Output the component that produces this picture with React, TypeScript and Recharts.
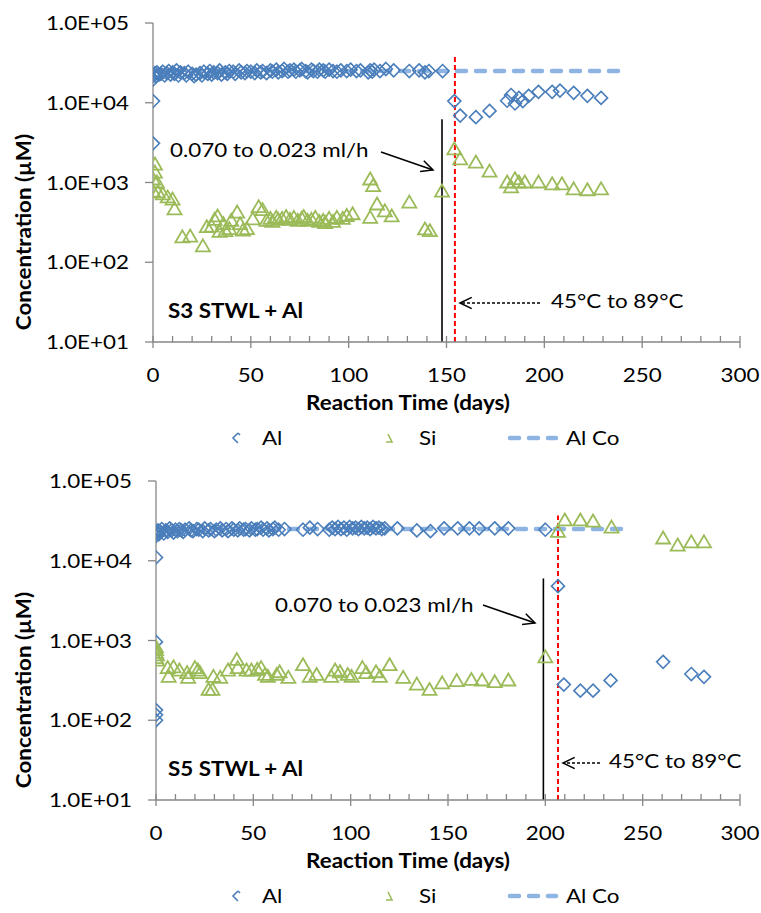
import React from 'react';
import { ComposedChart, Scatter, Line, XAxis, YAxis, ReferenceLine } from 'recharts';

// [day, concentration µM]
const s3Al: [number, number][] = [
  [0, 19500], [0, 10500], [0, 3100], [0.5, 22000], [1, 23500], [1.5, 21500], [2, 24000], [3, 22500],
  [4, 23000], [5, 24500], [6, 22000], [7, 23500], [8, 25000], [9, 22500], [10, 24000], [11, 23000],
  [12, 25500], [13, 22000], [14, 24000], [16, 23500], [17, 22000], [18, 24500], [20, 23000], [21, 21500],
  [22, 22500], [24, 23500], [25, 22000], [26, 24500], [28, 23000], [29, 25000], [30, 22500], [31, 24000],
  [33, 23500], [34, 25500], [35, 22500], [37, 24000], [38, 23000], [39, 25000], [41, 24500], [42, 23000],
  [44, 25500], [45, 24000], [47, 23500], [48, 25000], [50, 24500], [52, 23500], [53, 25500], [55, 24000],
  [56, 25000], [58, 23500], [60, 25500], [61, 24500], [63, 26000], [64, 24000], [66, 25000], [67, 26500],
  [69, 24500], [70, 25500], [72, 26000], [73, 24500], [75, 25500], [76, 26500], [78, 25000], [79, 24000],
  [81, 26000], [82, 25000], [84, 24500], [85, 26000], [87, 25500], [88, 24500], [90, 26000], [92, 25000],
  [94, 24500], [96, 25500], [99, 25000], [101, 26000], [104, 25000], [106, 25500], [110, 24000], [111, 25500],
  [112, 24500], [113, 26000], [116, 25000], [119, 26500], [123, 25500], [131, 25000], [136, 25500], [139, 24000],
  [141, 25000], [148, 25000], [154, 10500], [157, 6900], [165, 6600], [172, 7900], [181, 10600], [183, 12500],
  [185, 9800], [187, 11500], [189, 10500], [192, 12200], [197, 13700], [204, 13700], [208, 14200], [215, 13300],
  [222, 12200], [229, 11500],
];

const s3Si: [number, number][] = [
  [1, 1680], [1, 1330], [0, 1090], [2, 1000], [0, 770], [2.5, 750], [5, 710], [7.5, 650], [10, 610], [11, 460],
  [15, 205], [19, 210], [25.5, 158], [27.5, 275], [30, 280], [31.5, 340], [33, 375], [34, 240], [36, 300],
  [37, 245], [39, 260], [40, 330], [43, 420], [44.5, 300], [46, 250], [48, 260], [51, 345], [54, 490], [56, 450],
  [58, 330], [60, 350], [61, 320], [63, 360], [64, 340], [66, 350], [68, 370], [70, 340], [72, 360], [74, 330],
  [76, 350], [77, 370], [79, 330], [81, 340], [83, 360], [85, 320], [87, 330], [88, 310], [90, 350], [92, 320],
  [94, 360], [97, 350], [99, 380], [102, 400], [111, 360], [111, 1090], [112.5, 900], [114.5, 530], [118.5, 435],
  [122, 375], [131, 560], [139, 258], [141.5, 245], [147.7, 770], [154, 2600], [157, 1950], [165, 1780],
  [172, 1370], [181, 1000], [183, 870], [185, 1100], [187, 1000], [190, 1000], [197, 1000], [204, 950],
  [209, 950], [215, 820], [222, 800], [229, 820],
];

const s5Al: [number, number][] = [
  [0, 20500], [0, 23000], [0, 11000], [0, 960], [0, 134], [0, 117], [0, 100], [0.5, 22500], [1, 24000],
  [1.5, 21500], [2, 23500], [3, 25000], [4, 22000], [5, 24000], [6, 23000], [7, 25500], [8, 24000], [9, 22500],
  [10, 24500], [11, 23500], [12, 25000], [13, 24000], [14, 23000], [15, 24500], [17, 25500], [18, 24000],
  [19, 23500], [21, 25000], [22, 24500], [24, 23500], [25, 25500], [27, 24000], [28, 25000], [30, 23500],
  [31, 24500], [33, 25500], [34, 24000], [36, 25000], [37, 23500], [39, 25500], [40, 24500], [42, 24000],
  [43, 25500], [45, 24500], [46, 25000], [48, 24000], [49, 25500], [51, 24500], [52, 25000], [54, 26000],
  [55, 24500], [57, 25500], [58, 24000], [60, 25000], [61, 26000], [63, 24500], [66, 25000], [75.5, 24500],
  [79, 26000], [83, 25000], [89, 24500], [90.5, 26000], [92, 25000], [93.5, 26500], [95, 25000], [96.5, 26000],
  [98, 24500], [99.5, 26500], [101, 25500], [102.5, 26000], [104, 25000], [105.5, 26500], [107, 25500],
  [108.5, 26000], [110, 25000], [111.5, 26500], [113, 25500], [114.5, 26000], [116, 25000], [117.5, 25500],
  [124, 25500], [134, 24000], [141, 23500], [148, 25500], [155, 25500], [161, 25500], [166, 25500], [174, 25500],
  [181, 25500], [200, 24500], [206.5, 4800], [209.5, 280], [218, 235], [224.5, 235], [233.5, 316], [260.5, 540],
  [275, 380], [281.5, 350],
];

const s5Si: [number, number][] = [
  [0, 820], [0, 760], [0, 700], [0.5, 650], [0, 600], [0.5, 560], [6, 450], [6.5, 350], [9, 460], [12, 420],
  [16, 390], [16.5, 340], [20, 450], [21.5, 420], [22.6, 390], [27, 240], [29, 240], [29.5, 350], [33, 340],
  [37, 420], [41.5, 570], [42, 450], [46.5, 420], [49, 420], [52, 430], [54, 450], [56, 370], [57.5, 350],
  [62, 370], [63.5, 400], [68, 340], [75.5, 490], [79, 350], [82.5, 370], [90, 350], [92, 420], [94.5, 400],
  [98.5, 370], [100.5, 350], [106, 450], [108, 390], [113, 400], [115, 350], [120, 490], [127, 340], [134, 280],
  [140.5, 240], [147, 290], [154.5, 310], [162, 320], [167.5, 315], [174, 300], [181, 315], [200, 615],
  [206.5, 23000], [210, 32000], [218, 32000], [224.5, 31000], [234, 26000], [260.5, 19000], [268, 15500],
  [275, 17000], [281.5, 17000],
];

const alCoLevel = 25000;
const alCoRange = [0, 240];

const dayTicks = [0, 10, 20, 30, 40, 50, 60, 70, 80, 90, 100, 110, 120, 130, 140, 150, 160, 170, 180, 190, 200,
  210, 220, 230, 240, 250, 260, 270, 280, 290, 300];
const concTicks = [10, 100, 1000, 10000, 100000];

const FONT = "Lato, 'Open Sans', sans-serif";
const AXIS = '#868686';
const BLUE = '#4a7ebb';
const GREEN = '#9bbb59';
const ALCO = '#8eb4e3';
const SX = 1.12; // the original text is a bit wider than Lato

const toPts = (arr: [number, number][]) => arr.map(([x, y]) => ({ x, y }));

const sci = (v: number) => {
  const e = Math.round(Math.log10(v));
  return `1.0E+${e < 10 ? '0' + e : e}`;
};

// stretched text
function T({ x, y, children, anchor = 'start', size = 20, bold = false, rotate = 0 }: any) {
  return (
    <text
      transform={`translate(${x},${y}) rotate(${rotate}) scale(${SX},1)`}
      textAnchor={anchor}
      fontFamily={FONT}
      fontSize={size}
      fontWeight={bold ? 'bold' : 'normal'}
      fill="#000"
    >
      {children}
    </text>
  );
}

const Diamond = (p: any) => {
  const { cx, cy } = p;
  if (cx == null || cy == null) return null;
  const r = 6.5;
  return <path d={`M${cx},${cy - r}L${cx + r},${cy}L${cx},${cy + r}L${cx - r},${cy}Z`} fill="none" stroke={BLUE} strokeWidth={1.6} />;
};

const Triangle = (p: any) => {
  const { cx, cy } = p;
  if (cx == null || cy == null) return null;
  return <path d={`M${cx},${cy - 7}L${cx + 7},${cy + 5}L${cx - 7},${cy + 5}Z`} fill="none" stroke={GREEN} strokeWidth={1.8} />;
};

const XTick = (p: any) => {
  const { x, y, payload } = p;
  const v = payload.value;
  const major = v % 50 === 0;
  return (
    <g>
      <line x1={x} x2={x} y1={y - 6} y2={major ? y + 6 : y} stroke={AXIS} strokeWidth={1.3} />
      {major && <T x={x} y={y + 40} anchor="middle">{v}</T>}
    </g>
  );
};

const YTick = (p: any) => {
  const { x, y, payload } = p;
  return (
    <g>
      <line x1={x - 8} x2={x} y1={y} y2={y} stroke={AXIS} strokeWidth={1.3} />
      <T x={x - 24} y={y + 7} anchor="end">{sci(payload.value)}</T>
    </g>
  );
};

function Arrow({ x1, y1, x2, y2, dashed }: { x1: number; y1: number; x2: number; y2: number; dashed?: boolean }) {
  const a = Math.atan2(y2 - y1, x2 - x1);
  const L = 13;
  const s = 0.45;
  const h1 = [x2 - L * Math.cos(a - s), y2 - L * Math.sin(a - s)];
  const h2 = [x2 - L * Math.cos(a + s), y2 - L * Math.sin(a + s)];
  return (
    <g stroke="#000" fill="none" strokeWidth={1.5}>
      <line x1={x1} y1={y1} x2={x2} y2={y2} strokeDasharray={dashed ? '3 2' : undefined} />
      <polyline points={`${h1[0]},${h1[1]} ${x2},${y2} ${h2[0]},${h2[1]}`} />
    </g>
  );
}

interface PanelProps {
  top: number;
  plotLeft: number;
  al: [number, number][];
  si: [number, number][];
  title: string;
  flowDay: number;
  flowTop: number;
  tempDay: number;
  tempTop: number;
  flowText: { x: number; y: number; ax1: number; ay1: number; ax2: number; ay2: number };
  tempText: { x: number; y: number; ax1: number; ax2: number; ay: number };
}

function Panel(props: PanelProps) {
  const { top, plotLeft, al, si, title, flowDay, flowTop, tempDay, tempTop, flowText, tempText } = props;
  const yAxisWidth = 100;
  const alCo = [{ x: alCoRange[0], y: alCoLevel }, { x: alCoRange[1], y: alCoLevel }];
  return (
    <div style={{ position: 'absolute', left: 0, top, width: 761, height: 456 }}>
      <ComposedChart
        width={761}
        height={456}
        margin={{ top: 23, right: 21, left: plotLeft - yAxisWidth, bottom: 84 }}
      >
        <XAxis
          type="number"
          dataKey="x"
          domain={[0, 300]}
          ticks={dayTicks}
          interval={0}
          height={30}
          tickSize={0}
          tickMargin={0}
          tickLine={false}
          axisLine={{ stroke: AXIS, strokeWidth: 1.3 }}
          tick={<XTick />}
          allowDataOverflow
        />
        <YAxis
          type="number"
          dataKey="y"
          scale="log"
          domain={[10, 100000]}
          ticks={concTicks}
          interval={0}
          width={yAxisWidth}
          tickSize={0}
          tickMargin={0}
          tickLine={false}
          axisLine={{ stroke: AXIS, strokeWidth: 1.3 }}
          tick={<YTick />}
          allowDataOverflow
        />
        <Line
          data={alCo}
          dataKey="y"
          stroke={ALCO}
          strokeWidth={4.5}
          strokeDasharray="9 10"
          strokeLinecap="round"
          dot={false}
          activeDot={false}
          isAnimationActive={false}
        />
        <Scatter data={toPts(al)} dataKey="y" shape={Diamond} isAnimationActive={false} />
        <Scatter data={toPts(si)} dataKey="y" shape={Triangle} isAnimationActive={false} />
        <ReferenceLine
          segment={[{ x: flowDay, y: 10 }, { x: flowDay, y: flowTop }]}
          stroke="#000"
          strokeWidth={1.6}
        />
        <ReferenceLine
          segment={[{ x: tempDay, y: 10 }, { x: tempDay, y: tempTop }]}
          stroke="#ff0000"
          strokeWidth={2}
          strokeDasharray="5 3"
        />
      </ComposedChart>
      <svg width={761} height={456} style={{ position: 'absolute', left: 0, top: 0, pointerEvents: 'none' }}>
        <T x={31} y={232} rotate={-90} anchor="middle" bold size={20}>Concentration (µM)</T>
        <T x={408} y={410} anchor="middle" bold size={20}>Reaction Time (days)</T>
        <T x={168} y={318} bold size={20}>{title}</T>
        <T x={flowText.x} y={flowText.y}>0.070 to 0.023 ml/h</T>
        <Arrow x1={flowText.ax1} y1={flowText.ay1} x2={flowText.ax2} y2={flowText.ay2} />
        <T x={tempText.x} y={tempText.y}>45°C to 89°C</T>
        <Arrow x1={tempText.ax1} y1={tempText.ay} x2={tempText.ax2} y2={tempText.ay} dashed />
        {/* legend */}
        <g transform="translate(0, 438)">
          <polyline points="238,-5 233,0 238,5" fill="none" stroke={BLUE} strokeWidth={1.6} />
          <line x1={238} y1={-5} x2={240} y2={-3} stroke={BLUE} strokeWidth={1.6} />
          <T x={262} y={7}>Al</T>
          <polyline points="388,-4 392,4 386,4" fill="none" stroke={GREEN} strokeWidth={1.6} />
          <T x={419} y={7}>Si</T>
          <line x1={510} y1={0} x2={556} y2={0} stroke={ALCO} strokeWidth={4.5} strokeDasharray="9 10" strokeLinecap="round" />
          <T x={566} y={7}>Al Co</T>
        </g>
      </svg>
    </div>
  );
}

export default function App() {
  return (
    <div style={{ position: 'absolute', left: 0, top: 0, width: 761, height: 913, background: '#fff' }}>
      <Panel
        top={0}
        plotLeft={153}
        al={s3Al}
        si={s3Si}
        title="S3 STWL + Al"
        flowDay={147.7}
        flowTop={6200}
        tempDay={154.3}
        tempTop={40000}
        flowText={{ x: 170, y: 157, ax1: 381, ay1: 152, ax2: 433, ay2: 170 }}
        tempText={{ x: 551, y: 308, ax1: 540, ax2: 460, ay: 303 }}
      />
      <Panel
        top={458}
        plotLeft={156}
        al={s5Al}
        si={s5Si}
        title="S5 STWL + Al"
        flowDay={199}
        flowTop={6000}
        tempDay={206.5}
        tempTop={37000}
        flowText={{ x: 275, y: 154, ax1: 483, ay1: 147, ax2: 535, ay2: 165 }}
        tempText={{ x: 609, y: 310, ax1: 600, ax2: 563, ay: 305 }}
      />
    </div>
  );
}
